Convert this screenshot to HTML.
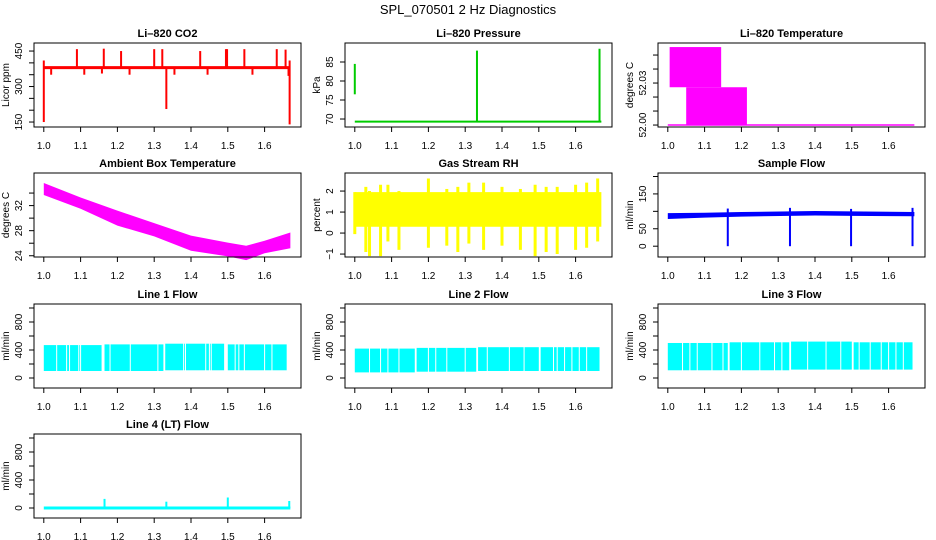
<!DOCTYPE html>
<html><head><meta charset="utf-8"><style>
body{margin:0;background:#fff}
svg{display:block;font-family:"Liberation Sans",sans-serif}
</style></head><body>
<svg id="chart" width="936" height="540" viewBox="0 0 936 540" xmlns="http://www.w3.org/2000/svg">
<rect width="936" height="540" fill="#fff"/>
<text x="468" y="14" text-anchor="middle" font-size="13">SPL_070501  2 Hz Diagnostics</text>
</svg>
<script>
// ---------- data (x = fractional day) ----------
const xTicks = [1.0,1.1,1.2,1.3,1.4,1.5,1.6];
const xTickLabels = ["1.0","1.1","1.2","1.3","1.4","1.5","1.6"];
// CO2
const co2Base = 380;
const co2Spikes = [[1.0,150,410],[1.02,350,380],[1.09,380,458],[1.11,350,380],[1.158,355,380],[1.163,380,460],[1.21,380,450],[1.233,350,380],[1.30,380,458],[1.322,380,458],[1.333,205,380],[1.355,350,380],[1.425,380,450],[1.445,350,380],[1.495,380,458],[1.498,380,458],[1.545,380,458],[1.567,350,380],[1.633,380,458],[1.657,380,456],[1.665,345,380],[1.668,140,410]];
// Pressure
const presBase = 69.3;
const presSpikes = [[1.0,76.5,84.5],[1.332,69.3,88],[1.665,69.3,88.5]];
// Li-820 temperature blocks [x0,x1,hi,lo]
const tempBlocks = [[1.005,1.145,52.0557,52.027],[1.05,1.215,52.027,52.0]];
const tempBase = 52.0;
// Ambient box temperature envelope
const ambX = [1.0,1.1,1.2,1.3,1.4,1.5,1.55,1.6,1.67];
const ambHi = [35.6,33.3,31.2,29.2,27.2,26.1,25.6,26.4,27.7];
const ambLo = [33.7,31.5,28.8,27.1,24.8,23.9,23.3,24.4,25.2];
// Gas stream RH
const rhCoreHi = 1.95, rhCoreLo = 0.3;
const rhSpikes = [[1.0,-0.05,1.95],[1.03,-0.9,2.2],[1.04,-1.1,2.0],[1.07,-1.1,2.3],[1.09,-0.4,2.3],[1.12,-0.8,2.0],[1.2,-0.7,2.6],[1.25,-0.6,2.1],[1.28,-0.9,2.2],[1.31,-0.5,2.4],[1.35,-0.8,2.4],[1.4,-0.6,2.2],[1.45,-0.8,2.1],[1.49,-1.1,2.3],[1.52,-0.9,2.2],[1.55,-1.0,2.2],[1.6,-0.8,2.3],[1.63,-0.7,2.4],[1.66,-0.4,2.6]];
// Sample flow
const sfX = [1.0,1.1,1.2,1.33,1.4,1.5,1.67];
const sfHi = [95,96,98,100,101,100,98];
const sfLo = [78,82,85,87,88,87,86];
const sfDrops = [[1.163,0,108],[1.332,0,110],[1.498,0,107],[1.665,0,110]];
// Line flows: [x0,x1,lo,hi] segments plus gap positions
const l1Seg = [[1.0,1.157,100,470],[1.165,1.325,100,480],[1.33,1.49,110,490],[1.5,1.66,110,480]];
const l1Gaps = [1.035,1.062,1.07,1.095,1.1,1.18,1.235,1.31,1.38,1.385,1.44,1.45,1.455,1.52,1.53,1.545,1.6,1.62];
const l2Seg = [[1.0,1.163,80,420],[1.168,1.33,90,430],[1.335,1.5,100,440],[1.505,1.665,100,440]];
const l2Gaps = [1.04,1.07,1.09,1.12,1.2,1.22,1.25,1.3,1.36,1.42,1.46,1.54,1.55,1.57,1.59,1.61,1.63];
const l3Seg = [[1.0,1.163,110,500],[1.168,1.33,110,510],[1.335,1.5,120,520],[1.505,1.665,120,510]];
const l3Gaps = [1.04,1.06,1.08,1.12,1.15,1.2,1.25,1.29,1.31,1.38,1.43,1.47,1.52,1.55,1.58,1.6,1.62,1.64];
// Line 4
const l4Base = 0;
const l4Spikes = [[1.165,0,130],[1.333,0,90],[1.5,0,150],[1.667,0,100]];

// ---------- layout ----------
const svg = document.getElementById('chart');
const NS = 'http://www.w3.org/2000/svg';
const colLeft = [34,345,658], boxW = 267, rowTop = [43,173,304,434], boxH = 84;
function el(tag, attrs, parent){ const e=document.createElementNS(NS,tag); for(const k in attrs) e.setAttribute(k,attrs[k]); (parent||svg).appendChild(e); return e; }

function panel(name, col, row, title, ylab, ymin, ymax, yt, ylabels, draw){
  const L = colLeft[col], T = rowTop[row];
  const g = el('g',{});
  
  
  const sx = v => L + 9.8 + (v-1)*368;
  const sy = v => T + boxH - (v-ymin)/(ymax-ymin)*boxH;
  const dg = el('g',{},g);
  
  
  draw(dg, sx, sy);
  const box = el('rect',{x:L,y:T,width:boxW,height:boxH,fill:'none',stroke:'#000','stroke-width':1},g);
  
  
  const tt = el('text',{x:L+boxW/2,y:T-6,'text-anchor':'middle','font-size':11,'font-weight':'bold'},g);
  tt.textContent = title;
  
  
  const xa = el('g',{},g);
  
  
  el('line',{x1:sx(xTicks[0]),x2:sx(xTicks[xTicks.length-1]),y1:T+boxH,y2:T+boxH,stroke:'#000'},xa);
  xTicks.forEach((v,i)=>{
    el('line',{x1:sx(v),x2:sx(v),y1:T+boxH,y2:T+boxH+5,stroke:'#000'},xa);
    const t = el('text',{x:sx(v),y:T+boxH+22,'text-anchor':'middle','font-size':10},xa);
    t.textContent = xTickLabels[i];
  });
  const ya = el('g',{},g);
  
  
  el('line',{x1:L,x2:L,y1:sy(yt[0]),y2:sy(yt[yt.length-1]),stroke:'#000'},ya);
  yt.forEach((v,i)=>{
    const y = sy(v);
    el('line',{x1:L-5,x2:L,y1:y,y2:y,stroke:'#000'},ya);
    if(ylabels[i]){
      const t = el('text',{x:L-12,y:y,'text-anchor':'middle','font-size':10,transform:`rotate(-90 ${L-12} ${y})`},ya);
      t.textContent = ylabels[i];
    }
  });
  const yl = el('text',{x:L-25,y:T+boxH/2,'text-anchor':'middle','font-size':10,transform:`rotate(-90 ${L-25} ${T+boxH/2})`},g);
  yl.textContent = ylab;
  
  
}
function vl(g,x,y0,y1,c,w){ el('line',{x1:x,x2:x,y1:y0,y2:y1,stroke:c,'stroke-width':w||2},g); }
function hl(g,x0,x1,y,c,w){ el('line',{x1:x0,x2:x1,y1:y,y2:y,stroke:c,'stroke-width':w||2},g); }
function band(g,xs,hi,lo,sx,sy,c){
  let pts = xs.map((x,i)=>sx(x)+','+sy(hi[i]));
  for(let i=xs.length-1;i>=0;i--) pts.push(sx(xs[i])+','+sy(lo[i]));
  el('polygon',{points:pts.join(' '),fill:c},g);
}
function flow(g,seg,gaps,sx,sy,c){
  seg.forEach(s=>el('rect',{x:sx(s[0]),y:sy(s[3]),width:sx(s[1])-sx(s[0]),height:sy(s[2])-sy(s[3]),fill:c},g));
  gaps.forEach(x=>vl(g,sx(x),sy(600),sy(50),'#fff',1));
}

panel('co2',0,0,'Li\u2013820 CO2','Licor ppm',129,484,[150,200,250,300,350,400,450],['150','','','300','','','450'],(g,sx,sy)=>{
  hl(g,sx(1.0),sx(1.67),sy(co2Base),'#ff0000',3);
  co2Spikes.forEach(s=>vl(g,sx(s[0]),sy(s[1]),sy(s[2]),'#ff0000',2));
});
panel('pressure',1,0,'Li\u2013820 Pressure','kPa',67.9,90,[70,75,80,85],['70','75','80','85'],(g,sx,sy)=>{
  hl(g,sx(1.0),sx(1.67),sy(presBase),'#00cc00',2);
  presSpikes.forEach(s=>vl(g,sx(s[0]),sy(s[1]),sy(s[2]),'#00cc00',2));
});
panel('li820-temperature',2,0,'Li\u2013820 Temperature','degrees C',51.9986,52.0586,[52.0,52.01,52.02,52.03,52.04,52.05],['52.00','','','52.03','',''],(g,sx,sy)=>{
  hl(g,sx(1.0),sx(1.67),sy(tempBase),'#ff00ff',1.5);
  tempBlocks.forEach(b=>el('rect',{x:sx(b[0]),y:sy(b[2]),width:sx(b[1])-sx(b[0]),height:sy(b[3])-sy(b[2]),fill:'#ff00ff'},g));
});
panel('ambient-temperature',0,1,'Ambient Box Temperature','degrees C',23.8,37.2,[24,26,28,30,32,34],['24','','28','','32',''],(g,sx,sy)=>{
  band(g,ambX,ambHi,ambLo,sx,sy,'#ff00ff');
});
panel('gas-stream-rh',1,1,'Gas Stream RH','percent',-1.14,2.86,[-1,0,1,2],['\u22121','0','1','2'],(g,sx,sy)=>{
  el('rect',{x:sx(1.0),y:sy(rhCoreHi),width:sx(1.67)-sx(1.0),height:sy(rhCoreLo)-sy(rhCoreHi),fill:'#ffff00'},g);
  rhSpikes.forEach(s=>vl(g,sx(s[0]),sy(s[1]),sy(s[2]),'#ffff00',3));
});
panel('sample-flow',2,1,'Sample Flow','ml/min',-31,210,[0,50,100,150,200],['0','50','','150',''],(g,sx,sy)=>{
  band(g,sfX,sfHi,sfLo,sx,sy,'#0000ff');
  sfDrops.forEach(s=>vl(g,sx(s[0]),sy(s[1]),sy(s[2]),'#0000ff',2));
});
const fT=[0,200,400,600,800,1000], fL=['0','','400','','800',''];
panel('line1-flow',0,2,'Line 1 Flow','ml/min',-143,1057,fT,fL,(g,sx,sy)=>flow(g,l1Seg,l1Gaps,sx,sy,'#00ffff'));
panel('line2-flow',1,2,'Line 2 Flow','ml/min',-143,1057,fT,fL,(g,sx,sy)=>flow(g,l2Seg,l2Gaps,sx,sy,'#00ffff'));
panel('line3-flow',2,2,'Line 3 Flow','ml/min',-143,1057,fT,fL,(g,sx,sy)=>flow(g,l3Seg,l3Gaps,sx,sy,'#00ffff'));
panel('line4-flow',0,3,'Line 4 (LT) Flow','ml/min',-143,1057,fT,fL,(g,sx,sy)=>{
  hl(g,sx(1.0),sx(1.67),sy(l4Base),'#00ffff',3);
  l4Spikes.forEach(s=>vl(g,sx(s[0]),sy(s[1]),sy(s[2]),'#00ffff',2));
});
</script>
</body></html>
